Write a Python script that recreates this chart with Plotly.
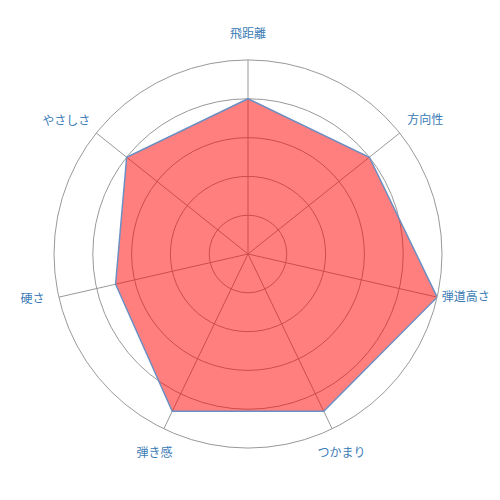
import plotly.graph_objects as go

categories = ["飛距離", "方向性", "弾道高さ", "つかまり", "弾き感", "硬さ", "やさしさ"]
values = [4, 4, 5, 4.5, 4.5, 3.5, 4]

# label placement (style only)
label_r = [5.5, 5.25, 5.12, 5.55, 5.55, 5.38, 5.2]
label_pos = ["top center", "top right", "middle right", "bottom center",
             "bottom center", "middle left", "top left"]

W = 500
cx, cy, R = 240, 254, 194          # centre (x from left, y from bottom) and radius in px
rmax_main, rmax_lab = 5, 5.8
R2 = R * rmax_lab / rmax_main

fig = go.Figure()
fig.add_trace(go.Scatterpolar(
    r=values + values[:1],
    theta=categories + categories[:1],
    mode="lines",
    fill="toself",
    fillcolor="rgba(255,0,0,0.5)",
    line=dict(color="#6b8fc2", width=1.5),
    hoverinfo="skip",
    subplot="polar",
))
fig.add_trace(go.Scatterpolar(
    r=label_r,
    theta=categories,
    mode="text",
    text=categories,
    textposition=label_pos,
    textfont=dict(family="Noto Sans CJK JP", size=12, color="#3b7bb5"),
    cliponaxis=False,
    hoverinfo="skip",
    subplot="polar2",
))
fig.update_layout(
    width=W, height=W,
    margin=dict(l=0, r=0, t=0, b=0),
    paper_bgcolor="white",
    showlegend=False,
    font=dict(family="Noto Sans CJK JP", size=12, color="#3b7bb5"),
    polar=dict(
        domain=dict(x=[(cx - R) / W, (cx + R) / W], y=[(cy - R) / W, (cy + R) / W]),
        bgcolor="white",
        radialaxis=dict(range=[0, rmax_main], tickvals=[1, 2, 3, 4, 5], showticklabels=False,
                        ticks="", showline=False, gridcolor="#999999", gridwidth=1),
        angularaxis=dict(rotation=90, direction="clockwise", ticks="",
                         showticklabels=False,
                         linecolor="#999999", gridcolor="#999999"),
    ),
    polar2=dict(
        domain=dict(x=[(cx - R2) / W, (cx + R2) / W], y=[(cy - R2) / W, (cy + R2) / W]),
        bgcolor="rgba(0,0,0,0)",
        radialaxis=dict(range=[0, rmax_lab], visible=False),
        angularaxis=dict(rotation=90, direction="clockwise", visible=False,
                         categoryarray=categories, categoryorder="array"),
    ),
)
fig.write_html("out.html")
